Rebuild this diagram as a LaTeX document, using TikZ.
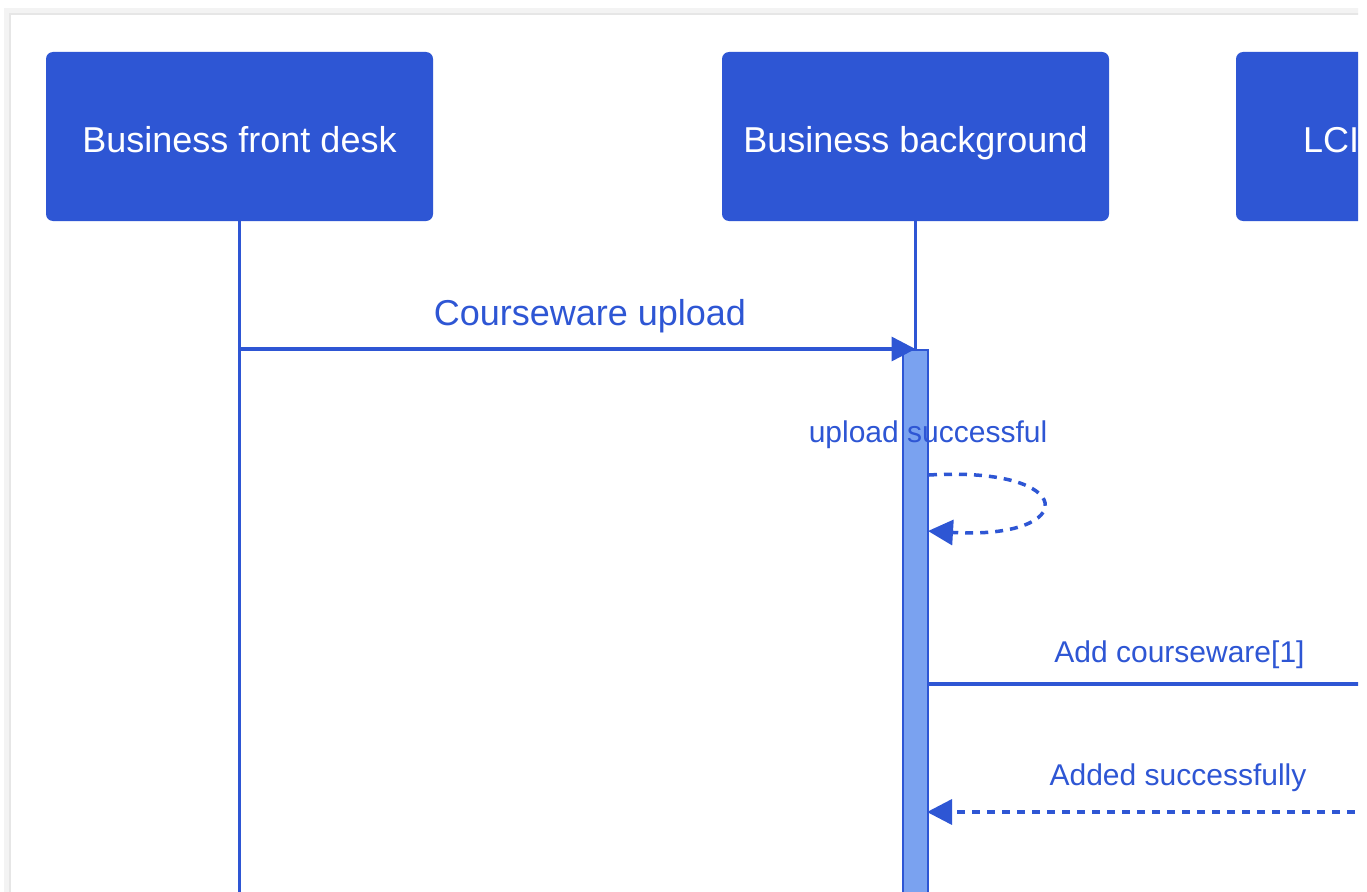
\documentclass[tikz,border=0pt]{standalone}
\usepackage{fontspec}
\setmainfont{Liberation Sans}
\usetikzlibrary{arrows.meta}
\definecolor{bblue}{RGB}{46,86,212}
\definecolor{actfill}{RGB}{122,162,240}
\definecolor{framegray}{RGB}{230,230,230}
\begin{document}
\begin{tikzpicture}[x=1pt,y=-1pt,
  actor/.style={fill=bblue, draw=none, rounded corners=7pt, minimum width=387pt, minimum height=169pt, inner sep=0pt, text=white, text height=26pt, text depth=0pt, font=\fontsize{36}{40}\selectfont},
  life/.style={draw=bblue, line width=3.5pt},
  actbar/.style={fill=actfill, draw=bblue, line width=2pt, minimum width=25pt, minimum height=620pt, inner sep=0pt, anchor=north},
  msg/.style={draw=bblue, line width=3.5pt, -{Triangle[length=24pt,width=24pt]}},
  ret/.style={draw=bblue, line width=3.5pt, dash pattern=on 8pt off 7pt, -{Triangle[length=25pt,width=25pt]}},
  biglbl/.style={text=bblue, font=\fontsize{36}{40}\selectfont, anchor=base, inner sep=0pt},
  lbl/.style={text=bblue, font=\fontsize{30}{34}\selectfont, anchor=base, inner sep=0pt}
]
\useasboundingbox (0,0) rectangle (1367,891);
\fill[white] (0,0) rectangle (1367,891);
\clip (0,0) rectangle (1358,891);
% frame
\draw[framegray!50, line width=6pt] (7,900) -- (7,11) -- (1360,11);
\draw[framegray, line width=2pt] (10,900) -- (10,14) -- (1360,14);
% actors
\node[actor] (fd) at (239.5,136.5) {};
\node[actor] (bb) at (915.5,136.5) {};
\node[actor] (lci) at (1429.5,136.5) {};
\node[text=white, font=\fontsize{36}{40}\selectfont, anchor=base, inner sep=0pt] (fdtext) at (fd.center |- 0,152) {Business front desk};
\node[text=white, font=\fontsize{36}{40}\selectfont, anchor=base, inner sep=0pt] (bbtext) at (bb.center |- 0,152) {Business background};
\node[text=white, font=\fontsize{36}{40}\selectfont, anchor=base west, inner sep=0pt] (lcitext) at (1303,152) {LCI};
% lifelines
\coordinate (fdend) at (239.5,900);
\draw[life] (fd.south) -- (fdend);
\node[actbar] (act) at (915.5,349) {};
\draw[life] (bb.south) -- (act.north);
\coordinate (lciend) at (1429.5,900);
\draw[life] (lci.south) -- (lciend);
\node[actbar] (act) at (915.5,349) {};
% message 1
\coordinate (m1s) at (239.5,349);
\draw[msg] (m1s) -- (act.north);
\node[biglbl] (l1) at (590,325) {Courseware upload};
% self message
\coordinate (s1) at (929,475);
\coordinate (s2) at (928,531);
\draw[ret] (s1) .. controls (1080,466) and (1080,540) .. (s2);
\node[lbl] (l2) at (928,442) {upload successful};
% add courseware
\coordinate (a1) at (929,684);
\coordinate (a2) at (1429.5,684);
\draw[msg] (a1) -- (a2);
\node[lbl] (l3) at (1179.5,662) {Add courseware[1]};
% added successfully
\coordinate (r1) at (1429.5,812);
\coordinate (r2) at (927,812);
\draw[ret] (r1) -- (r2);
\node[lbl] (l4) at (1178,785) {Added successfully};
\end{tikzpicture}
\end{document}
